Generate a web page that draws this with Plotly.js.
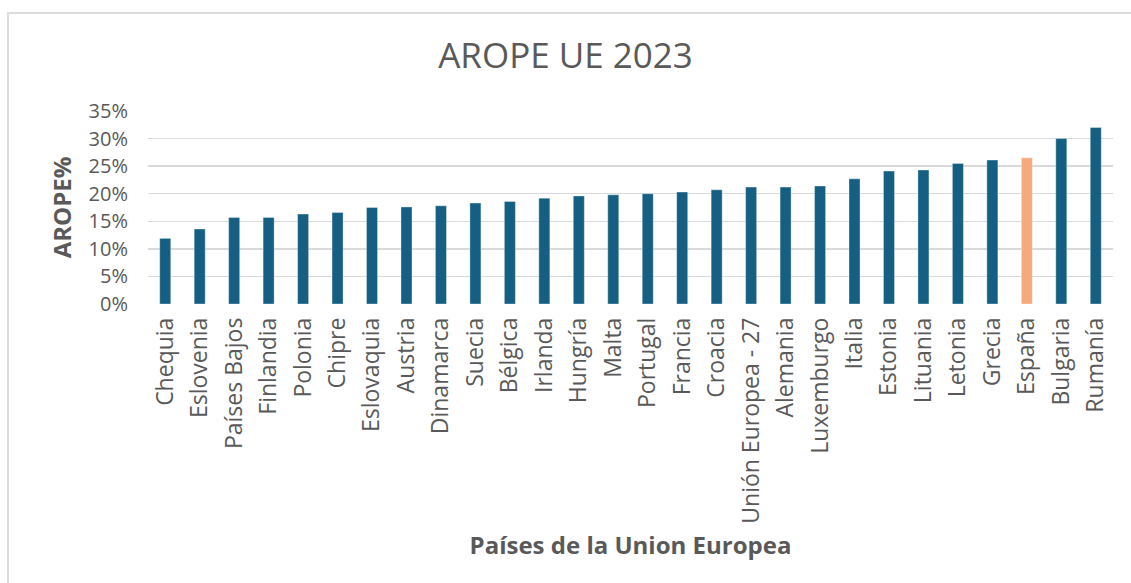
<!DOCTYPE html>
<html><head><meta charset="utf-8">
<script src="https://cdn.plot.ly/plotly-3.0.1.min.js"></script>
<style>
html,body{margin:0;padding:0;background:#fff;}
#wrap{position:relative;width:1131px;height:583px;overflow:hidden;}
#chart{width:1131px;height:583px;}
#frame{position:absolute;left:7px;top:12px;width:1140px;height:600px;border:2px solid #dcdcdc;pointer-events:none;}
</style></head>
<body><div id="wrap"><div id="chart"></div><div id="frame"></div></div>
<script>
const countries = ["Chequia","Eslovenia","Países Bajos","Finlandia","Polonia","Chipre","Eslovaquia","Austria","Dinamarca","Suecia","Bélgica","Irlanda","Hungría","Malta","Portugal","Francia","Croacia","Unión Europea - 27","Alemania","Luxemburgo","Italia","Estonia","Lituania","Letonia","Grecia","España","Bulgaria","Rumanía"];
const aropeValues = [0.119,0.136,0.157,0.157,0.163,0.166,0.175,0.176,0.178,0.183,0.186,0.192,0.196,0.198,0.200,0.203,0.207,0.212,0.212,0.214,0.227,0.241,0.243,0.255,0.261,0.265,0.300,0.320];
const highlight = "España";
const yTicks = [0,0.05,0.10,0.15,0.20,0.25,0.30,0.35];

const colors = countries.map(c => c === highlight ? "#f4a97f" : "#155f82");

const trace = {
  type: "bar",
  x: countries,
  y: aropeValues,
  marker: {color: colors, line: {color: "rgba(255,255,255,0.35)", width: 1}},
  hoverinfo: "x+y"
};

const layout = {
  width: 1131, height: 583,
  margin: {l: 148, r: 18, t: 111, b: 279},
  paper_bgcolor: "#fff", plot_bgcolor: "#fff",
  font: {family: "Open Sans, Liberation Sans, sans-serif", color: "#595959"},
  title: {text: "AROPE UE 2023", font: {size: 35, color: "#595959", family: "Open Sans, sans-serif"}, x: 0.5, xanchor: "center", y: 0.905, yanchor: "middle"},
  bargap: 0.68,
  showlegend: false,
  xaxis: {
    tickangle: -90,
    tickfont: {size: 23, color: "#595959"},
    showgrid: false, zeroline: false, showline: false, ticks: "",
    ticklabelstandoff: 8,
    title: {text: "<b>Países de la Union Europea</b>", font: {size: 24, color: "#595959"}, standoff: 14}
  },
  yaxis: {
    range: [0, 0.35],
    tickvals: yTicks,
    tickformat: ".0%",
    tickfont: {size: 20, color: "#595959"},
    showgrid: true, gridcolor: "#d9d9d9", gridwidth: 1.5,
    zeroline: false, showline: false, ticks: "",
    ticklabelstandoff: 19,
    title: {text: "<b>AROPE%</b>", font: {size: 24, color: "#595959"}, standoff: 10}
  }
};

Plotly.newPlot("chart", [trace], layout, {displayModeBar: false, staticPlot: true});
</script></body></html>
